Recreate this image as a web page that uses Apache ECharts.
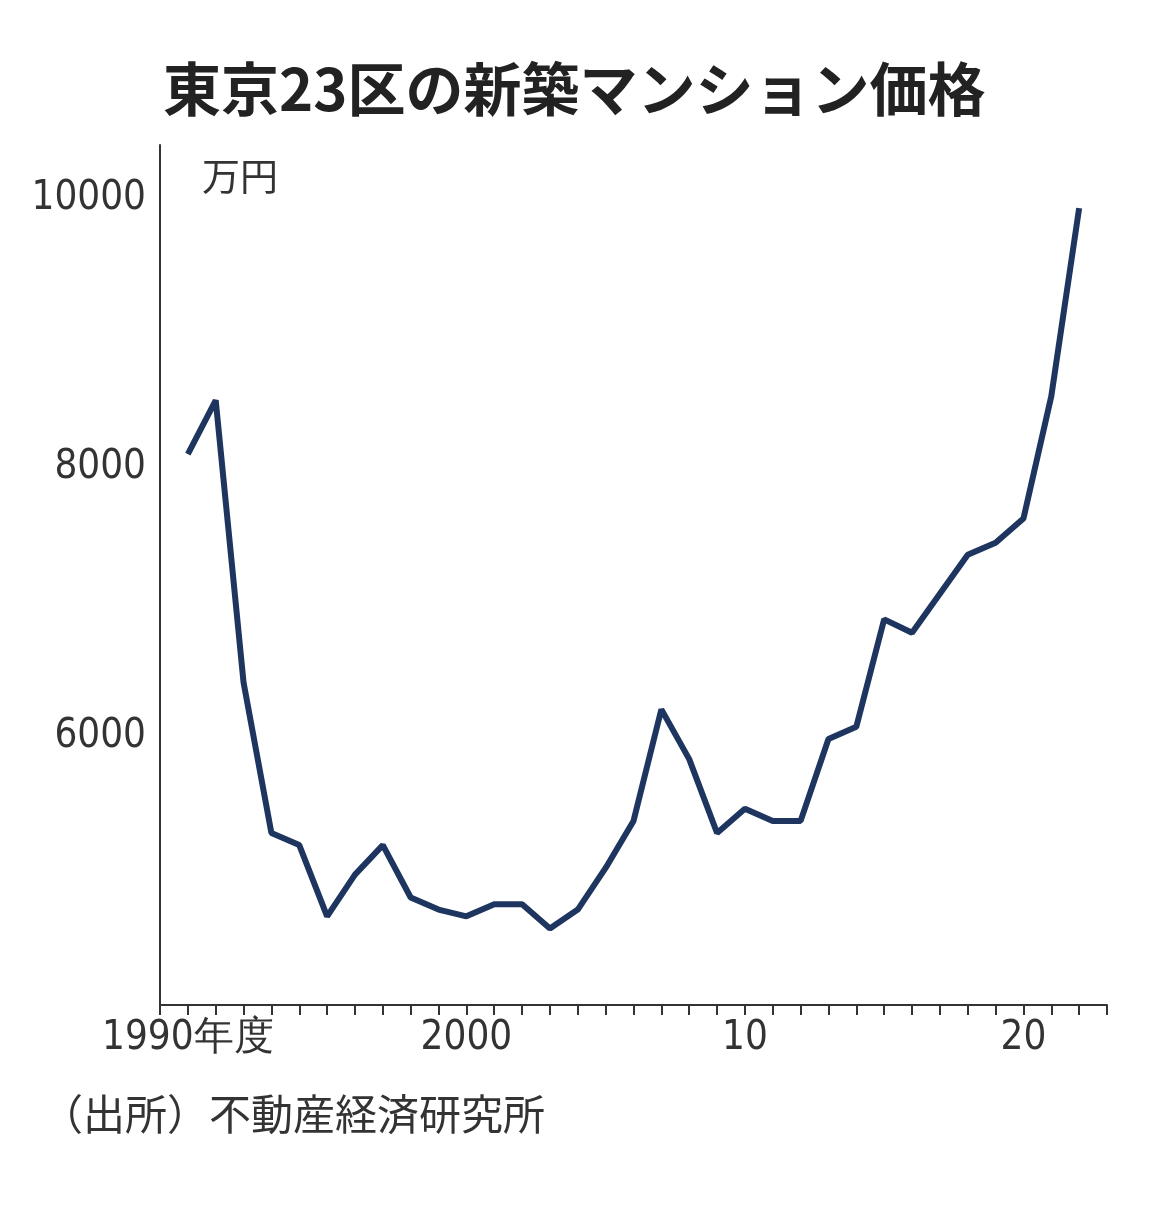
<!DOCTYPE html><html><head><meta charset="utf-8"><script src="https://cdn.jsdelivr.net/npm/echarts@6/dist/echarts.min.js"></script>
<style>body{margin:0;background:#fff}#c{width:1170px;height:1211px}</style></head><body><div id="c"></div><script>
const years=[];for(let y=1990;y<=2022;y++)years.push(y);
const prices=[8100,8500,6400,5280,5190,4660,4970,5190,4800,4710,4660,4750,4750,4570,4710,5020,5370,6200,5830,5280,5460,5370,5370,5980,6070,6870,6770,7060,7350,7440,7620,8530,9930];
const xLabels={1990:"1990年度",2000:"2000",2010:"10",2020:"20"};
const yTicks=[6000,8000,10000];
const F="'Noto Sans CJK JP'";
const c=echarts.init(document.getElementById('c'));
c.setOption({animation:false,
title:[{text:'東京23区の新築マンション価格',left:158,top:55,textStyle:{fontFamily:F,fontSize:58,fontWeight:'bold',color:'#222'}},
{text:'万円',left:197,top:152,textStyle:{fontFamily:F,fontSize:38,fontWeight:'normal',color:'#333'}},
{text:'（出所）不動産経済研究所',left:36,top:1088,textStyle:{fontFamily:F,fontSize:42,fontWeight:'normal',color:'#333'}}],
grid:{left:160,right:63,top:145,bottom:206},
xAxis:{type:'value',min:1989,max:2023,interval:1,splitLine:{show:false},axisLine:{lineStyle:{color:'#333',width:2}},
axisTick:{show:true,length:10,lineStyle:{color:'#333',width:2}},
axisLabel:{margin:14,fontFamily:'Liberation Sans Narrow, DejaVu Sans Condensed',fontSize:40,color:'#333',showMinLabel:true,showMaxLabel:true,formatter:v=>xLabels[v]||''}},
yAxis:{type:'value',min:4000,max:10400,interval:2000,splitLine:{show:false},axisLine:{show:true,lineStyle:{color:'#333',width:2}},axisTick:{show:false},
axisLabel:{margin:14,fontFamily:'Liberation Sans Narrow, DejaVu Sans Condensed',fontSize:40,color:'#333',formatter:v=>yTicks.includes(v)?String(v):''}},
series:[{type:'line',data:years.map((y,i)=>[y,prices[i]]),symbol:'none',lineStyle:{color:'#1e3560',width:6}}]});
</script></body></html>
